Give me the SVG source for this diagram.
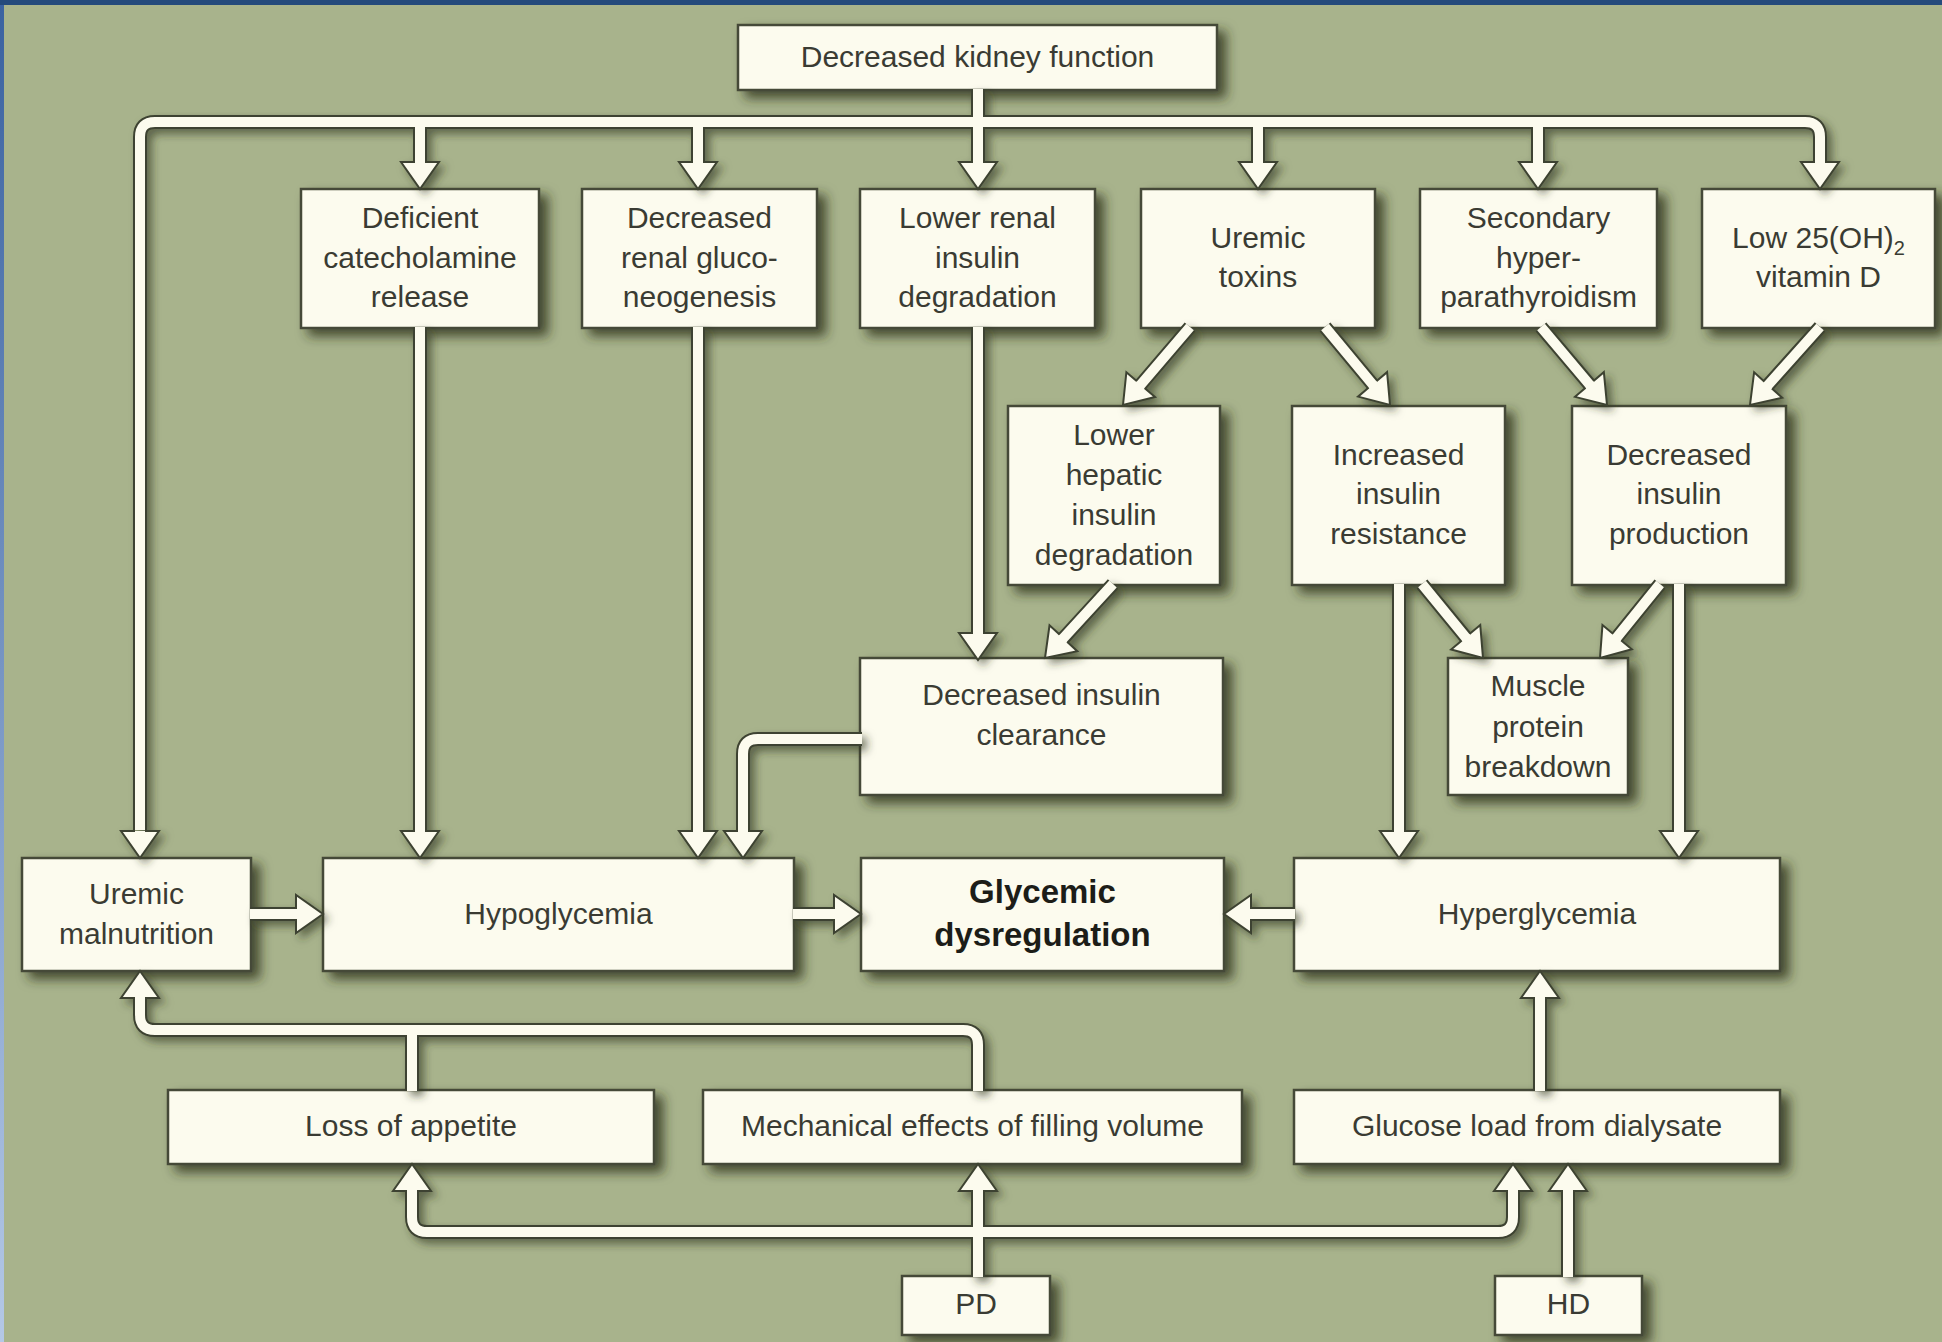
<svg xmlns="http://www.w3.org/2000/svg" xmlns:xlink="http://www.w3.org/1999/xlink" width="1942" height="1342" viewBox="0 0 1942 1342">
<style>
.box{fill:#fcfbee;stroke:#454a37;stroke-width:2.5;filter:url(#sh)}
.t{font-family:"Liberation Sans",Arial,sans-serif;font-size:30px;fill:#3a3b33;text-anchor:middle}
.b{font-family:"Liberation Sans",Arial,sans-serif;font-size:33px;font-weight:bold;fill:#1c1d18;text-anchor:middle}
.o{fill:none;stroke:#3e4331;stroke-width:14}
.c{fill:none;stroke:#fcfbee;stroke-width:10}
.h{fill:#fcfbee;stroke:#3e4331;stroke-width:2;stroke-linejoin:miter}
</style>
<defs>
<filter id="sh" x="-20%" y="-20%" width="150%" height="160%">
<feDropShadow dx="8" dy="7" stdDeviation="6" flood-color="#2c331d" flood-opacity="0.8"/>
</filter>
<filter id="shc" x="-5%" y="-5%" width="115%" height="115%">
<feDropShadow dx="5" dy="5" stdDeviation="4" flood-color="#2c331d" flood-opacity="0.6"/>
</filter>
<linearGradient id="lg" x1="0" y1="0" x2="0" y2="1">
<stop offset="0" stop-color="#3a62a0"/>
<stop offset="1" stop-color="#b4c8e6"/>
</linearGradient>
<path id="ah" d="M-5,-27 L-19,-27 L0,0 L19,-27 L5,-27"/>
<path id="p1" d="M140,830 L140,137 Q140,122 155,122 L1805,122 Q1820,122 1820,137 L1820,163"/>
<path id="p2" d="M978,89 L978,163"/>
<path id="p3" d="M420,122 L420,163 M698,122 L698,163 M1258,122 L1258,163 M1538,122 L1538,163"/>
<path id="p4" d="M420,327 L420,832 M698,327 L698,832 M978,327 L978,634"/>
<path id="p5" d="M862,739 L758,739 Q743,739 743,754 L743,832"/>
<path id="p6" d="M1190,327 L1139.4,386.2 M1325,327 L1373.8,385.9 M1541,327 L1590.8,386.1 M1820,327 L1766.8,386.5"/>
<path id="p7" d="M1113,584 L1062,639.7 M1422,584 L1466.9,638.8 M1660,584 L1615.9,638.7 M1399,584 L1399,832 M1679,584 L1679,832"/>
<path id="p8" d="M250,914 L297,914 M793,914 L835,914 M1295,914 L1250,914"/>
<path id="p9" d="M978,1091 L978,1045 Q978,1030 963,1030 L155,1030 Q140,1030 140,1015 L140,997 M412,1091 L412,1030"/>
<path id="p10" d="M978,1277 L978,1190 M412,1190 L412,1217 Q412,1232 427,1232 L1498,1232 Q1513,1232 1513,1217 L1513,1190 M1568,1277 L1568,1190 M1540,1091 L1540,997"/>
</defs>
<rect x="0" y="0" width="1942" height="1342" fill="#a8b38c"/>
<rect x="0" y="0" width="4" height="1342" fill="url(#lg)"/>
<rect x="0" y="0" width="1942" height="5" fill="#244a7c"/>

<g id="n-dkf"><rect class="box" x="738" y="25" width="479" height="65"/><text class="t" x="977.5" y="67">Decreased kidney function</text></g>
<g id="n-dcr"><rect class="box" x="301" y="189" width="238" height="139"/><text class="t" x="420" y="228">Deficient</text><text class="t" x="420" y="268">catecholamine</text><text class="t" x="420" y="307">release</text></g>
<g id="n-drg"><rect class="box" x="582" y="189" width="235" height="139"/><text class="t" x="699.5" y="228">Decreased</text><text class="t" x="699.5" y="268">renal gluco-</text><text class="t" x="699.5" y="307">neogenesis</text></g>
<g id="n-lrid"><rect class="box" x="860" y="189" width="235" height="139"/><text class="t" x="977.5" y="228">Lower renal</text><text class="t" x="977.5" y="268">insulin</text><text class="t" x="977.5" y="307">degradation</text></g>
<g id="n-ut"><rect class="box" x="1141" y="189" width="234" height="139"/><text class="t" x="1258" y="248">Uremic</text><text class="t" x="1258" y="287">toxins</text></g>
<g id="n-shp"><rect class="box" x="1420" y="189" width="237" height="139"/><text class="t" x="1538.5" y="228">Secondary</text><text class="t" x="1538.5" y="268">hyper-</text><text class="t" x="1538.5" y="307">parathyroidism</text></g>
<g id="n-vd"><rect class="box" x="1702" y="189" width="233" height="139"/><text class="t" x="1818.5" y="248">Low 25(OH)<tspan font-size="20" dy="7">2</tspan></text><text class="t" x="1818.5" y="287">vitamin D</text></g>
<g id="n-lhid"><rect class="box" x="1008" y="406" width="212" height="179"/><text class="t" x="1114" y="445">Lower</text><text class="t" x="1114" y="485">hepatic</text><text class="t" x="1114" y="525">insulin</text><text class="t" x="1114" y="565">degradation</text></g>
<g id="n-iir"><rect class="box" x="1292" y="406" width="213" height="179"/><text class="t" x="1398.5" y="465">Increased</text><text class="t" x="1398.5" y="504">insulin</text><text class="t" x="1398.5" y="544">resistance</text></g>
<g id="n-dip"><rect class="box" x="1572" y="406" width="214" height="179"/><text class="t" x="1679" y="465">Decreased</text><text class="t" x="1679" y="504">insulin</text><text class="t" x="1679" y="544">production</text></g>
<g id="n-dic"><rect class="box" x="860" y="658" width="363" height="137"/><text class="t" x="1041.5" y="705">Decreased insulin</text><text class="t" x="1041.5" y="745">clearance</text></g>
<g id="n-mpb"><rect class="box" x="1448" y="658" width="180" height="137"/><text class="t" x="1538" y="696">Muscle</text><text class="t" x="1538" y="737">protein</text><text class="t" x="1538" y="777">breakdown</text></g>
<g id="n-um"><rect class="box" x="22" y="858" width="229" height="113"/><text class="t" x="136.5" y="904">Uremic</text><text class="t" x="136.5" y="944">malnutrition</text></g>
<g id="n-hypo"><rect class="box" x="323" y="858" width="471" height="113"/><text class="t" x="558.5" y="924">Hypoglycemia</text></g>
<g id="n-gd"><rect class="box" x="861" y="858" width="363" height="113"/><text class="b" x="1042.5" y="903">Glycemic</text><text class="b" x="1042.5" y="946">dysregulation</text></g>
<g id="n-hyper"><rect class="box" x="1294" y="858" width="486" height="113"/><text class="t" x="1537" y="924">Hyperglycemia</text></g>
<g id="n-loa"><rect class="box" x="168" y="1090" width="486" height="74"/><text class="t" x="411" y="1136">Loss of appetite</text></g>
<g id="n-mef"><rect class="box" x="703" y="1090" width="539" height="74"/><text class="t" x="972.5" y="1136">Mechanical effects of filling volume</text></g>
<g id="n-glf"><rect class="box" x="1294" y="1090" width="486" height="74"/><text class="t" x="1537" y="1136">Glucose load from dialysate</text></g>
<g id="n-pd"><rect class="box" x="902" y="1276" width="148" height="59"/><text class="t" x="976" y="1314">PD</text></g>
<g id="n-hd"><rect class="box" x="1495" y="1276" width="147" height="59"/><text class="t" x="1568.5" y="1314">HD</text></g>

<g id="connectors" filter="url(#shc)">
<g class="o">
<use href="#p1"/><use href="#p2"/><use href="#p3"/><use href="#p4"/><use href="#p5"/><use href="#p6"/><use href="#p7"/><use href="#p8"/><use href="#p9"/><use href="#p10"/>
</g>
<g class="h">
<use href="#ah" transform="translate(140,858)"/>
<use href="#ah" transform="translate(1820,189)"/>
<use href="#ah" transform="translate(420,189)"/>
<use href="#ah" transform="translate(698,189)"/>
<use href="#ah" transform="translate(978,189)"/>
<use href="#ah" transform="translate(1258,189)"/>
<use href="#ah" transform="translate(1538,189)"/>
<use href="#ah" transform="translate(420,858)"/>
<use href="#ah" transform="translate(698,858)"/>
<use href="#ah" transform="translate(978,660)"/>
<use href="#ah" transform="translate(743,858)"/>
<use href="#ah" transform="translate(1399,858)"/>
<use href="#ah" transform="translate(1679,858)"/>
<use href="#ah" transform="translate(1123,405) rotate(41)"/>
<use href="#ah" transform="translate(1390,405) rotate(-40.2)"/>
<use href="#ah" transform="translate(1607,405) rotate(-40.6)"/>
<use href="#ah" transform="translate(1750,405) rotate(42.3)"/>
<use href="#ah" transform="translate(1045,658) rotate(43)"/>
<use href="#ah" transform="translate(1483,658) rotate(-39.9)"/>
<use href="#ah" transform="translate(1600,658) rotate(39.4)"/>
<use href="#ah" transform="translate(323,914) rotate(-90)"/>
<use href="#ah" transform="translate(861,914) rotate(-90)"/>
<use href="#ah" transform="translate(1224,914) rotate(90)"/>
<use href="#ah" transform="translate(140,971) rotate(180)"/>
<use href="#ah" transform="translate(412,1164) rotate(180)"/>
<use href="#ah" transform="translate(978,1164) rotate(180)"/>
<use href="#ah" transform="translate(1513,1164) rotate(180)"/>
<use href="#ah" transform="translate(1568,1164) rotate(180)"/>
<use href="#ah" transform="translate(1540,971) rotate(180)"/>
</g>
<g class="c">
<use href="#p1"/><use href="#p2"/><use href="#p3"/><use href="#p4"/><use href="#p5"/><use href="#p6"/><use href="#p7"/><use href="#p8"/><use href="#p9"/><use href="#p10"/>
</g>
</g>
</svg>
